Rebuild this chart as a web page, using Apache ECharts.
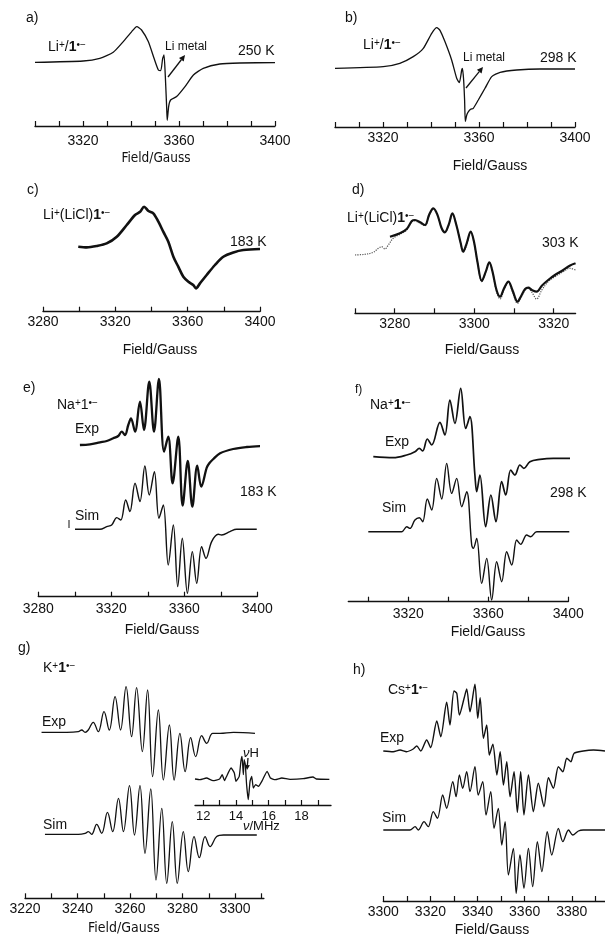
<!DOCTYPE html>
<html><head><meta charset="utf-8">
<script src="https://cdn.jsdelivr.net/npm/echarts@6/dist/echarts.min.js"></script>
<style>html,body{margin:0;padding:0;background:#fff}#c{width:605px;height:937px}</style>
</head><body><div id="c"></div>
<script>
// ---------- DATA (field in Gauss / MHz, signal in arbitrary units) ----------
const aTrace = [[3300,0],[3320.1,1.3],[3327,4],[3332.6,10],[3336.8,20.7],[3340.3,30.7],[3342.4,35.7],[3344.4,32.3],[3347.2,20.7],[3349.6,4],[3351.4,-7.7],[3352.4,-8.3],[3353.2,4],[3353.75,7.3],[3354.3,-14],[3354.9,-47.7],[3355.1,-58],[3355.7,-44],[3356.5,-37.7],[3359,-34.3],[3362.5,-24.3],[3366,-12.7],[3370.1,-6],[3377,-1.7],[3385.4,-0.7],[3400,-0.3]];
const bTrace = [[3300,0],[3320.1,1.7],[3327,5],[3332.6,11.7],[3336.8,20],[3340.3,35],[3342.4,40.7],[3343.8,37.7],[3345.8,26.7],[3348.6,8.3],[3350.7,-10],[3351.8,-14.3],[3352.8,-1.7],[3353.1,0],[3353.6,-11.7],[3354,-31.7],[3354.3,-53.3],[3354.9,-46.7],[3355.6,-43.3],[3356.5,-41],[3357.6,-40],[3359.7,-31.7],[3362.5,-20],[3365.3,-8.3],[3368.8,-4],[3375.7,-1.7],[3385.4,-0.7],[3400,-0.7]];
const cTrace = [[3299.5,0],[3304.2,-0.7],[3309.7,0.7],[3315.2,3.3],[3320.8,10],[3326.3,21.7],[3330.9,31.7],[3333.7,35],[3335.9,40],[3338.3,35.7],[3341,33.3],[3343.8,25],[3346.5,15],[3349.3,5],[3352.1,-10],[3354.8,-20],[3357.6,-30],[3360.4,-35],[3363.1,-38.3],[3364.6,-41.7],[3366.8,-36.7],[3370.5,-28.3],[3375.1,-18.3],[3379.7,-10],[3385.3,-5.7],[3390.8,-3.3],[3400,-2.3]];
const dSim = [[3270,0],[3272.5,0.7],[3274.6,2.7],[3275.9,6.7],[3276.7,8.3],[3277.5,6],[3278.4,10],[3279.6,16.7],[3281.3,20.7],[3283,25],[3284.3,33.3],[3285.1,34],[3286.4,31.7],[3287.6,29.3],[3288.7,40],[3289.7,46],[3290.7,40],[3291.8,26.7],[3292.6,22.7],[3293.6,30],[3294.5,40.7],[3295.5,30],[3296.6,11.7],[3297.2,2.7],[3298.1,10],[3299.1,22.7],[3299.9,13.3],[3300.8,-6.7],[3301.9,-26.7],[3302.9,-16.7],[3303.8,-7.3],[3304.6,-16.7],[3305.6,-36.7],[3306.5,-44],[3307.5,-35],[3308.6,-26.7],[3309.6,-36.7],[3310.9,-48.3],[3311.7,-43.3],[3312.8,-35],[3313.6,-33.3],[3314.5,-37.3],[3315.7,-44],[3317,-35],[3318.6,-26.7],[3320.3,-21.7],[3322.4,-16.7],[3324,-13.3],[3325.5,-15]];
const dExp = [[3278.8,18.3],[3281.3,21.7],[3283,26],[3284.3,34],[3285.1,35],[3286.4,32.7],[3287.6,30],[3288.7,40.7],[3289.7,46.7],[3290.7,40.7],[3291.8,26.7],[3292.6,22.7],[3293.6,30.7],[3294.5,41.7],[3295.5,30],[3296.6,11.7],[3297.2,3.3],[3298.1,11.7],[3299.1,23.3],[3299.9,14],[3300.8,-6.7],[3301.9,-26],[3302.9,-16.7],[3303.8,-7.3],[3304.6,-16.7],[3305.6,-35],[3306.5,-41.7],[3307.5,-33.3],[3308.6,-26.7],[3309.6,-35],[3310.9,-46.7],[3311.7,-41.7],[3312.8,-34],[3313.6,-32.7],[3314.5,-35],[3315.7,-36.7],[3317,-30.7],[3318.6,-25],[3320.3,-20],[3322.4,-15],[3324,-10.7],[3325.5,-8.3]];
const eExp = [[3302.8,0],[3308.3,0.7],[3313.8,2.7],[3317.5,4],[3321.1,6.7],[3323.8,9],[3325.7,13.3],[3327.5,10],[3329.3,20],[3330.8,26.7],[3333,13.3],[3335.7,43.3],[3337.9,15],[3340.8,63.3],[3343.4,13.3],[3346.1,66],[3348.9,-6.7],[3351.2,8.3],[3353.6,-38.3],[3356.7,8.3],[3359.1,-60.7],[3361.9,-16],[3364.4,-61.7],[3367.1,-20.7],[3369.3,-41.7],[3372.3,-22.7],[3373.7,-18.3],[3375.9,-14],[3379.6,-8.3],[3386.8,-4],[3394.2,-2],[3402.4,-1]];
const eSim = [[3300.1,0],[3313.8,0],[3317.5,2.7],[3320.2,4.3],[3323,11.7],[3325.2,9.3],[3327.9,29.3],[3330.2,17.7],[3333,46],[3335.7,27.7],[3338.4,63.3],[3340.8,34.3],[3343.6,57.7],[3346.1,11],[3348.5,24.3],[3351.2,-35.7],[3354,4.3],[3356.4,-57.3],[3358.9,-9],[3361.7,-64],[3364.4,-22.3],[3366.8,-54],[3369.5,-17.3],[3371.9,-29],[3375,-12.3],[3378.6,-5],[3380.5,-5.7],[3385,-2.3],[3388.7,0],[3399.7,0]];
const fExp = [[3302.5,0],[3312.5,-1],[3319.2,1.7],[3323.3,5],[3325.5,8.3],[3327.2,5.7],[3329.5,17.7],[3331.7,11.7],[3335.8,34.3],[3338.3,21.7],[3340.8,56.7],[3343.3,33.3],[3346.2,68.3],[3348.7,28.3],[3350.8,40],[3353.3,-18.3],[3354.2,-35],[3355.8,-18.3],[3358.7,-70],[3361.3,-38.3],[3363.8,-65],[3366.7,-25],[3368.7,-38.3],[3371.2,-13.3],[3373.3,-18.3],[3375.8,-8.3],[3377.8,-11.7],[3380.8,-5],[3385.8,-2.7],[3392.5,-1.7],[3401.7,-1.7]];
const fSim = [[3300,0],[3316.7,0],[3319.2,5],[3320.8,3.3],[3323.3,11.7],[3325.5,14],[3327.2,10],[3329.5,32.7],[3331.7,21.7],[3334.2,53.3],[3336.7,32.7],[3339.2,68.3],[3341.7,38.3],[3344.2,53.3],[3346.7,25],[3349.2,40],[3351.7,-13.3],[3352.5,-16.7],[3354.2,-6.7],[3356.7,-51.7],[3359.2,-26.7],[3361.7,-68.3],[3364.2,-30],[3366.7,-50],[3369.2,-20],[3371.7,-33.3],[3374.2,-8.3],[3376.2,-12.7],[3379.2,-3.3],[3381.2,-5],[3384.2,0],[3400.5,0]];
const gExp = [[3226.3,0],[3235.9,0],[3240.3,0.7],[3241.6,2.3],[3242.9,0],[3244.1,2.3],[3246,10],[3247.9,0.7],[3250.1,20.7],[3252.1,2.3],[3254.3,35.7],[3256.4,2.3],[3258.5,45.7],[3260.6,-4.3],[3262.5,44.7],[3264.7,-19.3],[3266.7,42.3],[3268.6,-44.3],[3270.8,22.3],[3272.7,-47.7],[3275,7.3],[3276.8,-47.7],[3279,-1],[3281,-39.3],[3283.1,-5.3],[3285,-24.3],[3287.3,-3.3],[3289.2,-11],[3291.5,-1],[3294.3,-1],[3299.4,0],[3307.6,-1]];
const gSim = [[3227.6,0],[3240.3,0],[3242.9,1],[3244.1,2.7],[3245.4,0],[3247.3,10],[3249.2,1],[3251.4,22],[3253.4,2.7],[3255.6,36],[3257.5,2.7],[3259.8,48.7],[3261.7,-0.7],[3263.8,48.7],[3265.7,-19],[3267.9,45.3],[3269.9,-45.7],[3272.1,26],[3274,-49],[3276.1,12.7],[3278,-49],[3280.3,2.7],[3282.2,-37.3],[3284.4,-2.3],[3286.4,-23.3],[3288.6,-2.3],[3290.5,-12.3],[3293,-2.3],[3295.6,-0.7],[3308.3,-0.7]];
const gInset = [[11.5,0],[11.8,-0.7],[12.2,1],[12.6,-1.7],[13,0],[13.16,4.3],[13.3,-1.7],[13.4,1.7],[13.7,11],[13.9,6],[14,-2.3],[14.2,2.7],[14.3,17.7],[14.37,22.7],[14.45,4.3],[14.5,19.3],[14.57,14.3],[14.65,-5.7],[14.75,-20.7],[14.86,-2.3],[14.96,2.7],[15.06,-9],[15.2,-5.7],[15.37,-7.3],[15.6,-1.7],[15.9,7.7],[16.1,1],[16.4,-0.7],[16.8,1],[17.3,-0.3],[18.1,0.3],[18.7,2],[18.9,0],[19.7,-0.3]];
const hExp = [[3300,0],[3304.2,-0.7],[3307.1,1],[3309.9,-0.7],[3312.7,2],[3314.2,5],[3315.9,0],[3318.4,11],[3320.1,3.3],[3322.7,30],[3324.4,14.3],[3326.9,48.7],[3328.3,26],[3330,60],[3331.2,57.7],[3332.3,36],[3334.3,52.7],[3335.4,62],[3336.8,39.3],[3338.9,66.7],[3340.1,32.7],[3341.1,53.3],[3342.5,12.7],[3343.9,26],[3345,-4],[3346.5,6.7],[3348.2,-24],[3349.6,-0.7],[3351,-34],[3352.4,-10.7],[3353.8,-45.7],[3355.5,-20.7],[3356.9,-61.3],[3358.3,-20.7],[3359.7,-64],[3361.6,-24],[3363.7,-60.7],[3365.8,-32.3],[3368.2,-55.7],[3370.1,-26.7],[3372.2,-37.3],[3374.3,-15.7],[3376.2,-20.7],[3377.9,-7.3],[3379.6,-10.7],[3381,-2.3],[3384.9,0],[3389.2,1],[3394.1,0]];
const hSim = [[3300,0],[3311.3,0],[3313.5,3.3],[3314.9,0],[3317.3,8.3],[3319.1,3.3],[3321.2,18.3],[3323,11.7],[3325.2,35],[3326.9,21.7],[3329.5,48.3],[3330.9,33.3],[3332.3,55],[3333.7,41.7],[3335.4,58.3],[3336.8,38.3],[3338.9,63.3],[3340.3,35],[3342.2,48.3],[3343.6,15],[3345.6,38.3],[3347,1.7],[3348.8,21.7],[3350.3,-15],[3351.7,8.3],[3353.1,-45],[3355.2,-18.3],[3356.4,-63.3],[3358,-25],[3359.7,-58.3],[3361.6,-18.3],[3363.4,-56.7],[3365.4,-11.7],[3367.3,-41.7],[3369.6,-1.7],[3371.5,-25],[3374.3,1.7],[3376.2,-11.7],[3378.6,0],[3380.4,-5],[3382.8,-1],[3384.9,0],[3394.1,0]];

// tick positions and tick labels
const abTicks = [3300,3310,3320,3330,3340,3350,3360,3370,3380,3390,3400];
const abLabels = [3320,3360,3400];
const ceTicks = [3280,3300,3320,3340,3360,3380,3400];
const ceLabels = [3280,3320,3360,3400];
const dTicks = [3270,3280,3290,3300,3310,3320];
const dLabels = [3280,3300,3320];
const fTicks = [3300,3320,3340,3360,3380,3400];
const fLabels = [3320,3360,3400];
const gTicks = [3220,3230,3240,3250,3260,3270,3280,3290,3300,3310];
const gLabels = [3220,3240,3260,3280,3300];
const hTicks = [3300,3310,3320,3330,3340,3350,3360,3370,3380,3390];
const hLabels = [3300,3320,3340,3360,3380];
const insetTicks = [12,13,14,15,16,17,18,19];
const insetLabels = [12,14,16,18];

// ---------- LAYOUT ----------
const FONT = "'Liberation Sans', Arial, Helvetica, sans-serif";
const NARROW = "'Liberation Sans Narrow', 'Arial Narrow', 'DejaVu Sans Condensed', sans-serif";
const K = '#111';
const panels = [
  {px:[35,275], axisY:126, range:[3300,3400], ticks:abTicks, labels:abLabels, margin:8, curves:[{d:aTrace, base:62.3, w:1.3, s:0.2}]},
  {px:[335,575], axisY:127, range:[3300,3400], ticks:abTicks, labels:abLabels, margin:4, curves:[{d:bTrace, base:68.3, w:1.3, s:0.2}]},
  {px:[43,260], axisY:311.7, range:[3280,3400], ticks:ceTicks, labels:ceLabels, margin:3, curves:[{d:cTrace, base:246.7, w:2.6, s:0.3}]},
  {px:[355,575.6], axisY:313.3, range:[3270,3325.5], ticks:dTicks, labels:dLabels, margin:4, curves:[{d:dSim, base:255, w:1.2, s:0.35, type:'dotted', c:'#555'},{d:dExp, base:255, w:2.2, s:0.35}]},
  {px:[38.3,257.3], axisY:596.7, range:[3280,3400], ticks:ceTicks, labels:ceLabels, margin:5, curves:[{d:eExp, base:445, w:2.3, s:0.35},{d:eSim, base:529.3, w:1.4, s:0.35}]},
  {px:[348.3,568.3], axisY:601.7, range:[3290,3400], ticks:fTicks, labels:fLabels, margin:5, curves:[{d:fExp, base:456.7, w:1.7, s:0.35},{d:fSim, base:531.7, w:1.4, s:0.35}]},
  {px:[25,263.9], axisY:898.3, range:[3220,3311], ticks:gTicks, labels:gLabels, margin:4, curves:[{d:gExp, base:732.3, w:1.3, s:0.4},{d:gSim, base:834.3, w:1.3, s:0.4}]},
  {px:[383.3,605], axisY:901, range:[3300,3394.1], ticks:hTicks, labels:hLabels, margin:4, curves:[{d:hExp, base:751, w:1.4, s:0.25},{d:hSim, base:830, w:1.3, s:0.3}]},
  {px:[195,331], axisY:805, range:[11.5,19.8], ticks:insetTicks, labels:insetLabels, margin:5, fs:13, curves:[{d:gInset, base:779, w:1.3, s:0.15}]}
];

const grid=[], xAxis=[], yAxis=[], series=[];
panels.forEach((p,i)=>{
  grid.push({left:p.px[0], top:0, width:p.px[1]-p.px[0], height:p.axisY, containLabel:false});
  xAxis.push({gridIndex:i, type:'value', min:p.range[0], max:p.range[1],
    axisLine:{onZero:false, lineStyle:{color:K, width:1.3}},
    axisTick:{inside:true, length:5, customValues:p.ticks, lineStyle:{color:K, width:1.2}},
    axisLabel:{customValues:p.labels, margin:p.margin, color:K, fontSize:p.fs||14, fontFamily:FONT, formatter:v=>String(v)},
    splitLine:{show:false}});
  p.curves.forEach(c=>{
    const yi = yAxis.length;
    yAxis.push({gridIndex:i, type:'value', min:-(p.axisY-c.base), max:c.base, show:false, splitLine:{show:false}});
    series.push({type:'line', xAxisIndex:i, yAxisIndex:yi, data:c.d, showSymbol:false, symbol:'none',
      smooth:c.s, clip:false, silent:true,
      lineStyle:{color:c.c||K, width:c.w, type:c.type||'solid'}});
  });
});

// ---------- TEXT ----------
const rich = {
  sup:{fontSize:10, fontFamily:FONT, verticalAlign:'top', fill:K},
  b:{fontSize:14, fontWeight:'bold', fontFamily:FONT, fill:K},
  i:{fontSize:13, fontStyle:'italic', fontFamily:FONT, fill:K, verticalAlign:'top'},
  h:{fontSize:13, fontFamily:FONT, fill:K, verticalAlign:'bottom'}
};
function T(x,y,text,size,fam,extra){
  return Object.assign({type:'text', x:x, y:y, silent:true,
    style:{text:text, fontSize:size||14, fontFamily:fam||FONT, fill:K, verticalAlign:'middle', align:'left', rich:rich}}, extra||{});
}
function TC(x,y,text,size,fam){ const t=T(x,y,text,size,fam); t.style.align='center'; return t; }
const texts = [
  T(26,18,'a)'), T(48,47,'Li{sup|+}/{b|1}{sup|•−}'), T(165,47,'Li metal',12), T(238,51,'250 K'),
  TC(156,158,'Field/Gauss',13.5,NARROW),
  T(345,18,'b)'), T(363,45,'Li{sup|+}/{b|1}{sup|•−}'), T(463,58,'Li metal',12), T(540,58,'298 K'),
  TC(490,166,'Field/Gauss'),
  T(27,190,'c)'), T(43,215,'Li{sup|+}(LiCl){b|1}{sup|•−}'), T(230,242,'183 K'),
  TC(160,350,'Field/Gauss'),
  T(352,190,'d)'), T(347,218,'Li{sup|+}(LiCl){b|1}{sup|•−}'), T(542,243,'303 K'),
  TC(482,350,'Field/Gauss'),
  T(23,388,'e)'), T(57,405,'Na{sup|+}1{sup|•−}'), T(75,429,'Exp'), T(240,492,'183 K'), T(75,516,'Sim'),
  TC(162,630,'Field/Gauss'),
  T(355,390,'f)',12), T(370,405,'Na{sup|+}{b|1}{sup|•−}'), T(385,442,'Exp'), T(550,493,'298 K'), T(382,508,'Sim'),
  TC(488,632,'Field/Gauss'),
  T(18,648,'g)'), T(43,668,'K{sup|+}{b|1}{sup|•−}'), T(42,722,'Exp'), T(43,825,'Sim'),
  T(243,753,'{i|ν}{h|H}',13), T(243,826,'{i|ν}/MHz',13),
  TC(124,928,'Field/Gauss',14,NARROW),
  T(353,670,'h)'), T(388,690,'Cs{sup|+}{b|1}{sup|•−}'), T(380,738,'Exp'), T(382,818,'Sim'),
  TC(492,930,'Field/Gauss')
];
function arrow(x1,y1,x2,y2,len,hw){
  const dx=x2-x1, dy=y2-y1, L=Math.hypot(dx,dy), ux=dx/L, uy=dy/L, nx=-uy, ny=ux;
  const bx=x2-ux*len, by=y2-uy*len;
  return [
    {type:'line', silent:true, shape:{x1:x1,y1:y1,x2:bx,y2:by}, style:{stroke:K, lineWidth:1.3}},
    {type:'polygon', silent:true, shape:{points:[[x2,y2],[bx+nx*hw,by+ny*hw],[bx-nx*hw,by-ny*hw]]}, style:{fill:K}}
  ];
}
const graphics = texts.concat(
  arrow(168,77,185,55,6,3),
  arrow(466,88,483,67,6,3),
  arrow(248,758,247,770,5,2.5),
  [{type:'line', silent:true, shape:{x1:69,y1:520,x2:69,y2:528}, style:{stroke:K, lineWidth:1}}]
);

const chart = echarts.init(document.getElementById('c'), null, {renderer:'canvas'});
chart.setOption({animation:false, backgroundColor:'#fff', grid, xAxis, yAxis, series, graphic:graphics});
</script></body></html>
